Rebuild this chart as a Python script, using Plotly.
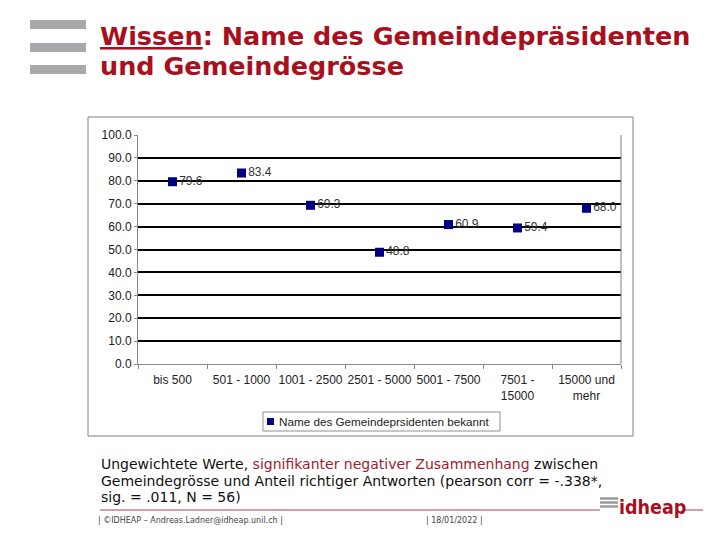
import plotly.graph_objects as go

categories = ["bis 500", "501 - 1000", "1001 - 2500", "2501 - 5000", "5001 - 7500", "7501 -<br>15000", "15000 und<br>mehr"]
values = [79.6, 83.4, 69.3, 48.8, 60.9, 59.4, 68.0]
series_name = "Name des Gemeindeprsidenten bekannt"
y_ticks = [0, 10, 20, 30, 40, 50, 60, 70, 80, 90, 100]

W, H = 720, 540
def px(x):
    return x / W
def py(y):
    return 1 - y / H

RED = "#A8101E"
NAVY = "#000080"
AX = "Arial, Liberation Sans"

fig = go.Figure()
fig.add_trace(go.Scatter(
    x=categories, y=values, mode="markers+text", name=series_name,
    marker=dict(symbol="square", size=9, color=NAVY),
    text=[f"{v:.1f}" for v in values], textposition="middle right",
    textfont=dict(family=AX, size=12, color="#333333"),
    cliponaxis=False, showlegend=False,
))

fig.update_layout(
    width=W, height=H, margin=dict(l=0, r=0, t=0, b=0, pad=0),
    paper_bgcolor="white", plot_bgcolor="white",
    showlegend=False,
    xaxis=dict(domain=[px(138), px(621)], range=[-0.5, 6.5], type="category",
               showgrid=False, showline=True, linecolor="#888888", linewidth=1,
               ticks="outside", tickson="boundaries", ticklen=4, tickcolor="#888888",
               tickangle=0, ticklabelstandoff=5,
               tickfont=dict(family=AX, size=12, color="#222222"),
               automargin=False),
    yaxis=dict(domain=[py(364), py(135)], range=[0, 100], tickvals=y_ticks,
               tickformat=".1f", showgrid=True, gridcolor="#000000", gridwidth=1.5,
               showline=True, linecolor="#888888", linewidth=1,
               ticks="outside", ticklen=3, tickcolor="#888888",
               tickfont=dict(family=AX, size=12, color="#222222"),
               zeroline=False, automargin=False),
)

shapes = []
# plot area right border
shapes.append(dict(type="line", xref="paper", yref="paper", x0=px(621), x1=px(621), y0=py(364), y1=py(135),
                   line=dict(color="#808080", width=1)))
# outer chart frame
shapes.append(dict(type="rect", xref="paper", yref="paper", x0=px(88), x1=px(633), y0=py(436), y1=py(117),
                   line=dict(color="#808080", width=1)))
# legend box and symbol
shapes.append(dict(type="rect", xref="paper", yref="paper", x0=px(263), x1=px(500), y0=py(431), y1=py(412),
                   line=dict(color="#909090", width=1), fillcolor="white"))
shapes.append(dict(type="rect", xref="paper", yref="paper", x0=px(267), x1=px(274), y0=py(425), y1=py(418),
                   line=dict(width=0), fillcolor=NAVY))
# gray bars top-left
for y0, y1 in [(20, 29), (43, 52), (65, 74)]:
    shapes.append(dict(type="rect", xref="paper", yref="paper", x0=px(30), x1=px(86), y0=py(y1), y1=py(y0),
                       line=dict(width=0), fillcolor="#A9A9AC"))
# footer line (interrupted by logo)
shapes.append(dict(type="line", xref="paper", yref="paper", x0=px(100), x1=px(600), y0=py(510), y1=py(510),
                   line=dict(color="#A04050", width=1)))
shapes.append(dict(type="line", xref="paper", yref="paper", x0=px(683), x1=px(703), y0=py(510), y1=py(510),
                   line=dict(color="#A04050", width=1)))
# logo bars
for yy in [498.5, 502.5, 506.5]:
    shapes.append(dict(type="line", xref="paper", yref="paper", x0=px(600), x1=px(618), y0=py(yy), y1=py(yy),
                       line=dict(color="#9A9A9A", width=2.5)))
fig.update_layout(shapes=shapes)

ann = []
ann.append(dict(x=px(277), y=py(421.5), xref="paper", yref="paper", xanchor="left", yanchor="middle",
                showarrow=False, text=series_name, font=dict(family=AX, size=11.7, color="#222222")))
title_lines = ["<b><u>Wissen</u>: Name des Gemeindepräsidenten</b>", "<b>und Gemeindegrösse</b>"]
for txt, yc in zip(title_lines, [36, 66]):
    ann.append(dict(x=px(98), y=py(yc), xref="paper", yref="paper", xanchor="left", yanchor="middle",
                    align="left", showarrow=False, text=txt,
                    font=dict(family="DejaVu Sans", size=25.5, color=RED)))
note_lines = [
    "Ungewichtete Werte, <span style='color:#A02030'>signifikanter negativer Zusammenhang</span> zwischen",
    "Gemeindegrösse und Anteil richtiger Antworten (pearson corr = -.338*,",
    "sig. = .011, N = 56)",
]
for txt, yc in zip(note_lines, [464, 480.5, 497]):
    ann.append(dict(x=px(99), y=py(yc), xref="paper", yref="paper", xanchor="left", yanchor="middle",
                    align="left", showarrow=False, text=txt,
                    font=dict(family="DejaVu Sans", size=14, color="#111111")))
ann.append(dict(x=px(96), y=py(520), xref="paper", yref="paper", xanchor="left", yanchor="middle",
                showarrow=False, text="| ©IDHEAP – Andreas.Ladner@idheap.unil.ch |",
                font=dict(family="DejaVu Sans", size=8, color="#444444")))
ann.append(dict(x=px(424), y=py(520), xref="paper", yref="paper", xanchor="left", yanchor="middle",
                showarrow=False, text="| 18/01/2022 |",
                font=dict(family="DejaVu Sans", size=8, color="#444444")))
ann.append(dict(x=px(617), y=py(507), xref="paper", yref="paper", xanchor="left", yanchor="middle",
                showarrow=False, text="<b>idheap</b>",
                font=dict(family="DejaVu Sans Condensed, Liberation Sans Narrow", size=19.5, color=RED)))
fig.update_layout(annotations=ann)

fig.write_html("out.html", config={"displayModeBar": False},
               post_script="document.body.style.margin='0';document.body.style.overflow='hidden';")
